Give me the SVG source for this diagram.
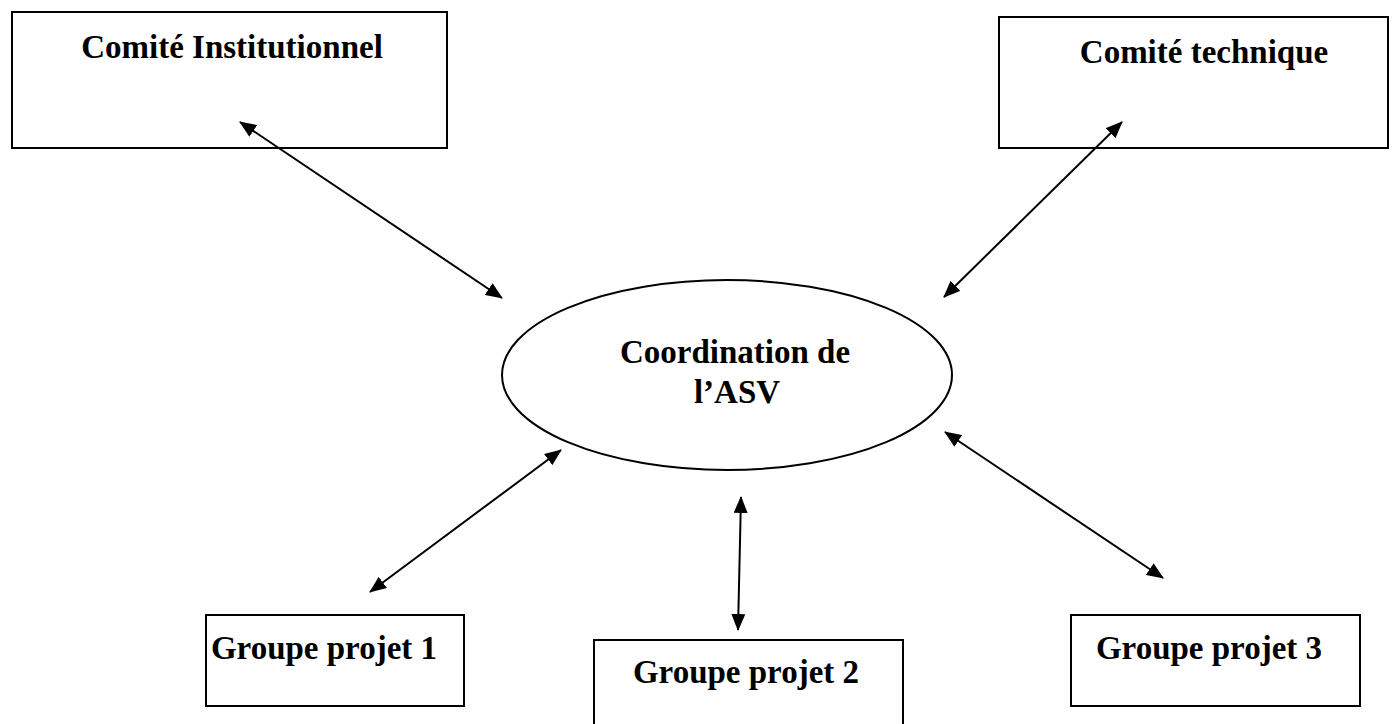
<svg xmlns="http://www.w3.org/2000/svg" width="1399" height="724" viewBox="0 0 1399 724">
<defs>
<style>
.box{fill:#fff;stroke:#000;stroke-width:2}
.lbl{font-family:"Liberation Serif","Times New Roman",serif;font-weight:bold;font-size:33px;fill:#000;text-anchor:middle}
.con{stroke:#000;stroke-width:2;fill:none;marker-start:url(#ah);marker-end:url(#ah)}
</style>
<marker id="ah" viewBox="0 0 17 14" refX="16" refY="7" markerWidth="17" markerHeight="14" markerUnits="userSpaceOnUse" orient="auto-start-reverse">
<path d="M0,0 L17,7 L0,14 Z" fill="#000"/>
</marker>
</defs>
<rect width="1399" height="724" fill="#fff"/>
<g id="comite-institutionnel">
<rect class="box" x="12" y="12" width="435" height="136"/>
<text class="lbl" x="232" y="58">Comité Institutionnel</text>
</g>
<g id="comite-technique">
<rect class="box" x="999" y="17" width="389" height="131"/>
<text class="lbl" x="1204" y="63">Comité technique</text>
</g>
<g id="coordination">
<ellipse class="box" cx="727" cy="375" rx="225" ry="95"/>
<text class="lbl" x="735" y="363">Coordination de</text>
<text class="lbl" x="737" y="403">l’ASV</text>
</g>
<g id="groupe1">
<rect class="box" x="206" y="615" width="258" height="91"/>
<text class="lbl" x="324" y="659">Groupe projet 1</text>
</g>
<g id="groupe2">
<rect class="box" x="594" y="640" width="309" height="90"/>
<text class="lbl" x="746" y="683">Groupe projet 2</text>
</g>
<g id="groupe3">
<rect class="box" x="1071" y="615" width="289" height="91"/>
<text class="lbl" x="1209" y="659">Groupe projet 3</text>
</g>
<g id="connectors">
<line class="con" x1="240" y1="122" x2="502" y2="298"/>
<line class="con" x1="1122" y1="122" x2="944" y2="297"/>
<line class="con" x1="370" y1="592" x2="561" y2="450"/>
<line class="con" x1="741" y1="497" x2="738" y2="630"/>
<line class="con" x1="945" y1="432" x2="1163" y2="578"/>
</g>
</svg>
